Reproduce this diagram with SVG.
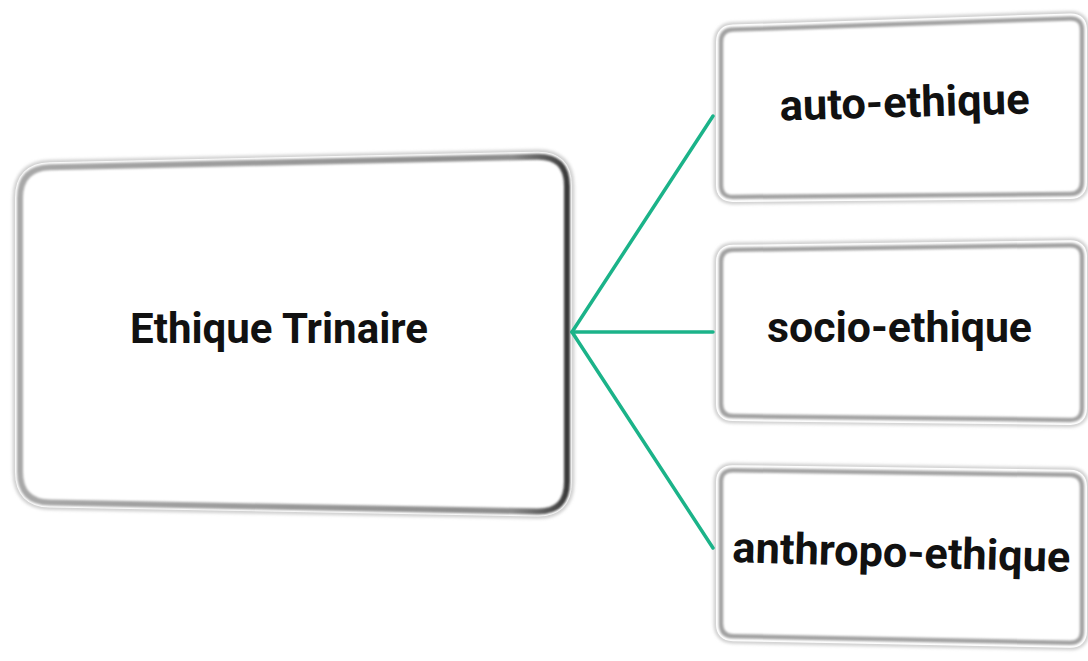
<svg xmlns="http://www.w3.org/2000/svg" width="1088" height="661" viewBox="0 0 1088 661">
  <defs>
    <filter id="blur2" x="-10%" y="-10%" width="120%" height="120%"><feGaussianBlur stdDeviation="1.6"/></filter>
    <filter id="blur1" x="-10%" y="-10%" width="120%" height="120%"><feGaussianBlur stdDeviation="0.8"/></filter>
    <linearGradient id="rimMain" x1="0" y1="0" x2="1" y2="0">
      <stop offset="0" stop-color="#a8a8a8"/>
      <stop offset="0.9" stop-color="#8c8c8c"/>
      <stop offset="1" stop-color="#3a3a3a"/>
    </linearGradient>
  </defs>
  <style>
    .halo { fill: none; stroke: #d2d2d2; stroke-width: 15; filter: url(#blur2); }
    .gap { fill: none; stroke: #ffffff; stroke-width: 10; }
    .face { fill: #ffffff; }
    .rim { fill: none; stroke: #a2a2a2; stroke-width: 4.5; filter: url(#blur1); }
    .label { font-family: Roboto, "Noto Sans", "Liberation Sans", sans-serif; font-weight: 700; fill: #111111; text-anchor: middle; }
    .conn { fill: none; stroke: #1bb389; stroke-width: 3.5; stroke-linecap: round; }
  </style>
  <rect width="1088" height="661" fill="#ffffff"/>

  <g id="node-main">
    <path class="halo" d="M20,198 Q20,168 50,167.3 L537,156.7 Q567,156 567,186 L567,482 Q567,512 537,511.4 L50,502.6 Q20,502 20,472 Z"/>
    <path class="gap face" d="M20,198 Q20,168 50,167.3 L537,156.7 Q567,156 567,186 L567,482 Q567,512 537,511.4 L50,502.6 Q20,502 20,472 Z"/>
    <path class="rim" style="stroke:url(#rimMain);stroke-width:6" d="M20,198 Q20,168 50,167.3 L537,156.7 Q567,156 567,186 L567,482 Q567,512 537,511.4 L50,502.6 Q20,502 20,472 Z"/>
    <path d="M569,190 L569,478" fill="none" stroke="#2e2e2e" stroke-width="5" filter="url(#blur1)"/>
    <text class="label" x="279" y="343" font-size="43" textLength="298" lengthAdjust="spacingAndGlyphs">Ethique Trinaire</text>
  </g>

  <g id="node-auto">
    <path class="halo" d="M721,42 Q721,30 733,29.6 L1070,18.4 Q1082,18 1082,30 L1082,182 Q1082,194 1070,194.1 L733,196.9 Q721,197 721,185 Z"/>
    <path class="gap face" d="M721,42 Q721,30 733,29.6 L1070,18.4 Q1082,18 1082,30 L1082,182 Q1082,194 1070,194.1 L733,196.9 Q721,197 721,185 Z"/>
    <path class="rim" d="M721,42 Q721,30 733,29.6 L1070,18.4 Q1082,18 1082,30 L1082,182 Q1082,194 1070,194.1 L733,196.9 Q721,197 721,185 Z"/>
    <text class="label" x="905" y="117" font-size="43" textLength="250" lengthAdjust="spacingAndGlyphs" transform="rotate(-1.6 905 117)">auto-ethique</text>
  </g>

  <g id="node-socio">
    <path class="halo" d="M721,262 Q721,250 733,249.8 L1070,245.2 Q1082,245 1082,257 L1082,408 Q1082,420 1070,419.9 L733,416.1 Q721,416 721,404 Z"/>
    <path class="gap face" d="M721,262 Q721,250 733,249.8 L1070,245.2 Q1082,245 1082,257 L1082,408 Q1082,420 1070,419.9 L733,416.1 Q721,416 721,404 Z"/>
    <path class="rim" d="M721,262 Q721,250 733,249.8 L1070,245.2 Q1082,245 1082,257 L1082,408 Q1082,420 1070,419.9 L733,416.1 Q721,416 721,404 Z"/>
    <text class="label" x="899.5" y="342" font-size="43" textLength="265" lengthAdjust="spacingAndGlyphs">socio-ethique</text>
  </g>

  <g id="node-anthropo">
    <path class="halo" d="M721,482 Q721,470 733,470.2 L1070,474.8 Q1082,475 1082,487 L1082,631 Q1082,643 1070,642.8 L733,636.2 Q721,636 721,624 Z"/>
    <path class="gap face" d="M721,482 Q721,470 733,470.2 L1070,474.8 Q1082,475 1082,487 L1082,631 Q1082,643 1070,642.8 L733,636.2 Q721,636 721,624 Z"/>
    <path class="rim" d="M721,482 Q721,470 733,470.2 L1070,474.8 Q1082,475 1082,487 L1082,631 Q1082,643 1070,642.8 L733,636.2 Q721,636 721,624 Z"/>
    <text class="label" x="901" y="567" font-size="43" textLength="338" lengthAdjust="spacingAndGlyphs" transform="rotate(1.7 901 567)">anthropo-ethique</text>
  </g>

  <g id="connectors">
    <path class="conn" d="M572,332 L713,116"/>
    <path class="conn" d="M572,332 L713,332"/>
    <path class="conn" d="M572,332 L713,548"/>
  </g>
</svg>
